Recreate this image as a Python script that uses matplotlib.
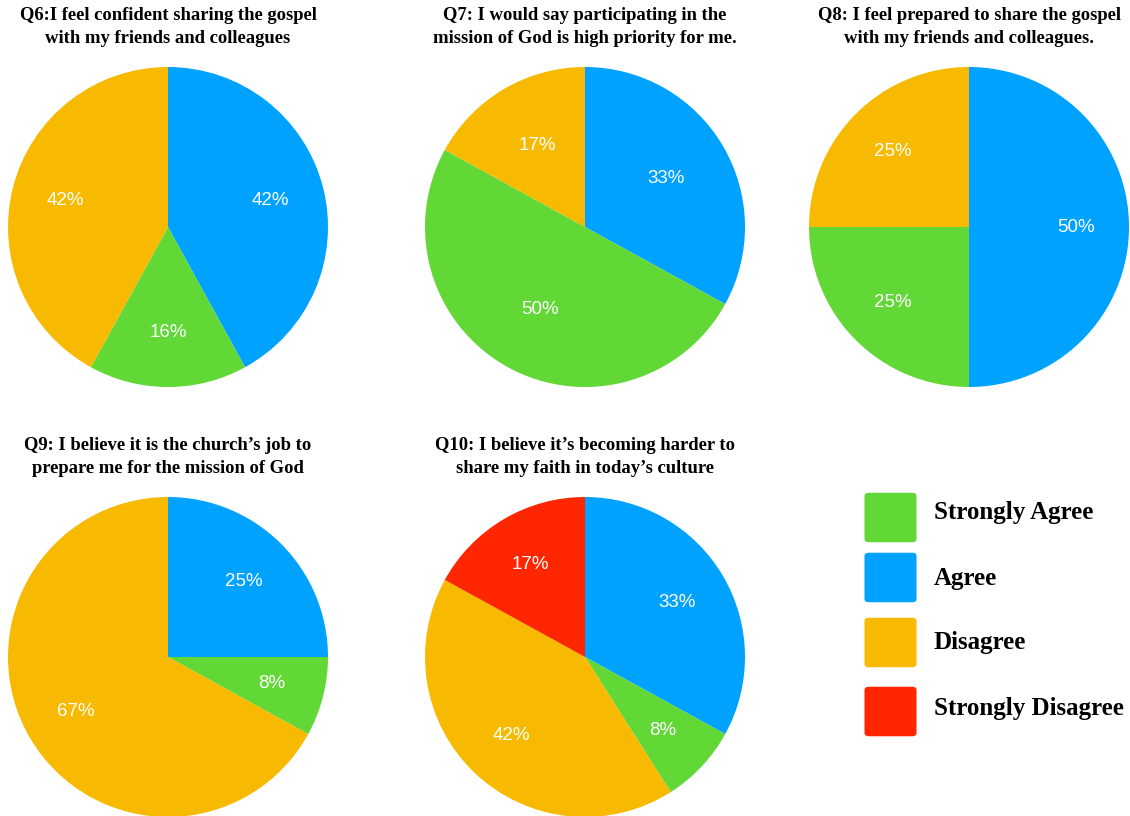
import matplotlib
matplotlib.use('Agg')
import matplotlib.pyplot as plt
from matplotlib.patches import FancyBboxPatch

# 数据：每个问题的回答占比（顺序：Agree, Strongly Agree, Disagree, Strongly Disagree）
categories = ['Agree', 'Strongly Agree', 'Disagree', 'Strongly Disagree']
titles = [
    'Q6:I feel confident sharing the gospel\nwith my friends and colleagues',
    'Q7: I would say participating in the\nmission of God is high priority for me.',
    'Q8: I feel prepared to share the gospel\nwith my friends and colleagues.',
    'Q9: I believe it is the church\u2019s job to\nprepare me for the mission of God',
    'Q10: I believe it\u2019s becoming harder to\nshare my faith in today\u2019s culture',
]
q6 = [42, 16, 42, 0]
q7 = [33, 50, 17, 0]
q8 = [50, 25, 25, 0]
q9 = [25, 8, 67, 0]
q10 = [33, 8, 42, 17]
all_values = [q6, q7, q8, q9, q10]

legend_order = ['Strongly Agree', 'Agree', 'Disagree', 'Strongly Disagree']

colors = {'Agree': '#00A2FF', 'Strongly Agree': '#61D836',
          'Disagree': '#F8BA00', 'Strongly Disagree': '#FF2600'}

W, H = 1130, 816
fig = plt.figure(figsize=(W / 100, H / 100), dpi=100)

# 饼图中心（像素）和半径
centers = [(168, 227), (585, 227), (969, 227), (168, 657), (585, 657)]
pct_dist = [0.66, 0.59, 0.67, 0.67, 0.67]
R = 160

for i, vals in enumerate(all_values):
    cx, cy = centers[i]
    ax = fig.add_axes([(cx - R) / W, 1 - (cy + R) / H, 2 * R / W, 2 * R / H])
    v = [x for x in vals if x > 0]
    c = [colors[categories[k]] for k, x in enumerate(vals) if x > 0]
    ax.pie(v, colors=c, startangle=90, counterclock=False, radius=1,
           autopct='%d%%', pctdistance=pct_dist[i],
           wedgeprops={'linewidth': 0},
           textprops={'color': 'white', 'fontsize': 13.5, 'family': 'Liberation Sans'})
    ax.set_xlim(-1, 1)
    ax.set_ylim(-1, 1)
    ax.set_aspect('equal')
    ax.axis('off')
    # 标题
    fig.text(cx / W, 1 - 27 / H if cy < 400 else 1 - 457 / H, titles[i],
             ha='center', va='center', fontsize=13.4, fontweight='bold',
             family='Liberation Serif', linespacing=1.4)

# 图例（圆角色块 + 文本）
box_y = [517, 577, 642, 711]
text_y = [512, 578, 643, 708]
for name, by, ty in zip(legend_order, box_y, text_y):
    box = FancyBboxPatch(((865 + 4) / W, 1 - (by + 26 - 4) / H), (51 - 8) / W, (51 - 8) / H,
                         boxstyle='round,pad=0.004', transform=fig.transFigure,
                         facecolor=colors[name], edgecolor='none')
    fig.patches.append(box)
    fig.text(934 / W, 1 - ty / H, name, ha='left', va='center', fontsize=18,
             fontweight='bold', family='Liberation Serif')

plt.savefig('out.png', dpi=100)
